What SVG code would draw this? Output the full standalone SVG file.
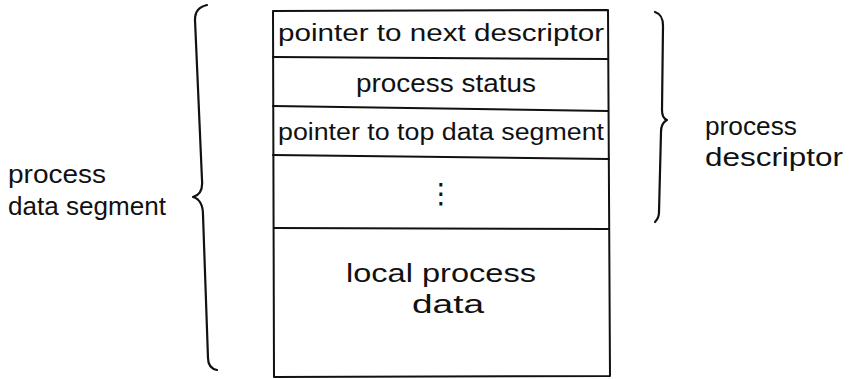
<svg xmlns="http://www.w3.org/2000/svg" width="849" height="379" viewBox="0 0 849 379">
  <style>
    .ink { fill: none; stroke: #111; stroke-width: 2; stroke-linecap: round; stroke-linejoin: round; }
    .brace { fill: none; stroke: #111; stroke-width: 2.2; stroke-linecap: round; stroke-linejoin: round; }
    .lbl { font-family: "Liberation Sans", Arial, sans-serif; font-size: 23px; fill: #111; }
    .big { font-size: 26px; }
  </style>
  <rect width="849" height="379" fill="#fff"/>

  <!-- stacked memory layout -->
  <g id="segment-box">
    <path class="ink" d="M273,11 L608,10 L610,376 L274,377 Z"/>
  </g>
  <g id="row-next-descriptor">
    <path class="ink" d="M273,57 L608,59"/>
    <text class="lbl" x="278" y="41" textLength="326" lengthAdjust="spacingAndGlyphs">pointer to next descriptor</text>
  </g>
  <g id="row-status">
    <path class="ink" d="M273,106 L608,111"/>
    <text class="lbl big" x="356" y="92" textLength="180" lengthAdjust="spacingAndGlyphs">process status</text>
  </g>
  <g id="row-top-segment">
    <path class="ink" d="M273,155 L609,159"/>
    <text class="lbl" x="278" y="140" textLength="326" lengthAdjust="spacingAndGlyphs">pointer to top data segment</text>
  </g>
  <g id="row-more">
    <path class="ink" d="M274,228 L609,229"/>
    <text class="lbl" x="441" y="203" text-anchor="middle" style="font-family:'DejaVu Sans',sans-serif;font-size:28px">⋮</text>
  </g>
  <g id="row-local-data">
    <text class="lbl big" x="346" y="282" textLength="190" lengthAdjust="spacingAndGlyphs">local process</text>
    <text class="lbl big" x="412" y="313" textLength="72" lengthAdjust="spacingAndGlyphs">data</text>
  </g>

  <!-- braces -->
  <g id="connectors">
    <path class="brace" d="M207,5 C200,7 195,10 195,20 L202,180 C203,190 200,195 193,197 C200,199 203,205 203,215 L208,358 C208,365 212,369 217,370"/>
    <path class="brace" d="M655,12 C661,14 663,18 663,26 L662,110 C662,116 664,119 667,120 C663,122 661,126 661,132 L659,212 C659,217 657,220 655,222"/>
  </g>

  <g id="label-data-segment">
    <text class="lbl big" x="8" y="183" textLength="98" lengthAdjust="spacingAndGlyphs">process</text>
    <text class="lbl big" x="8" y="215" textLength="158" lengthAdjust="spacingAndGlyphs">data segment</text>
  </g>
  <g id="label-descriptor">
    <text class="lbl big" x="705" y="135" textLength="92" lengthAdjust="spacingAndGlyphs">process</text>
    <text class="lbl big" x="705" y="166" textLength="138" lengthAdjust="spacingAndGlyphs">descriptor</text>
  </g>
</svg>
